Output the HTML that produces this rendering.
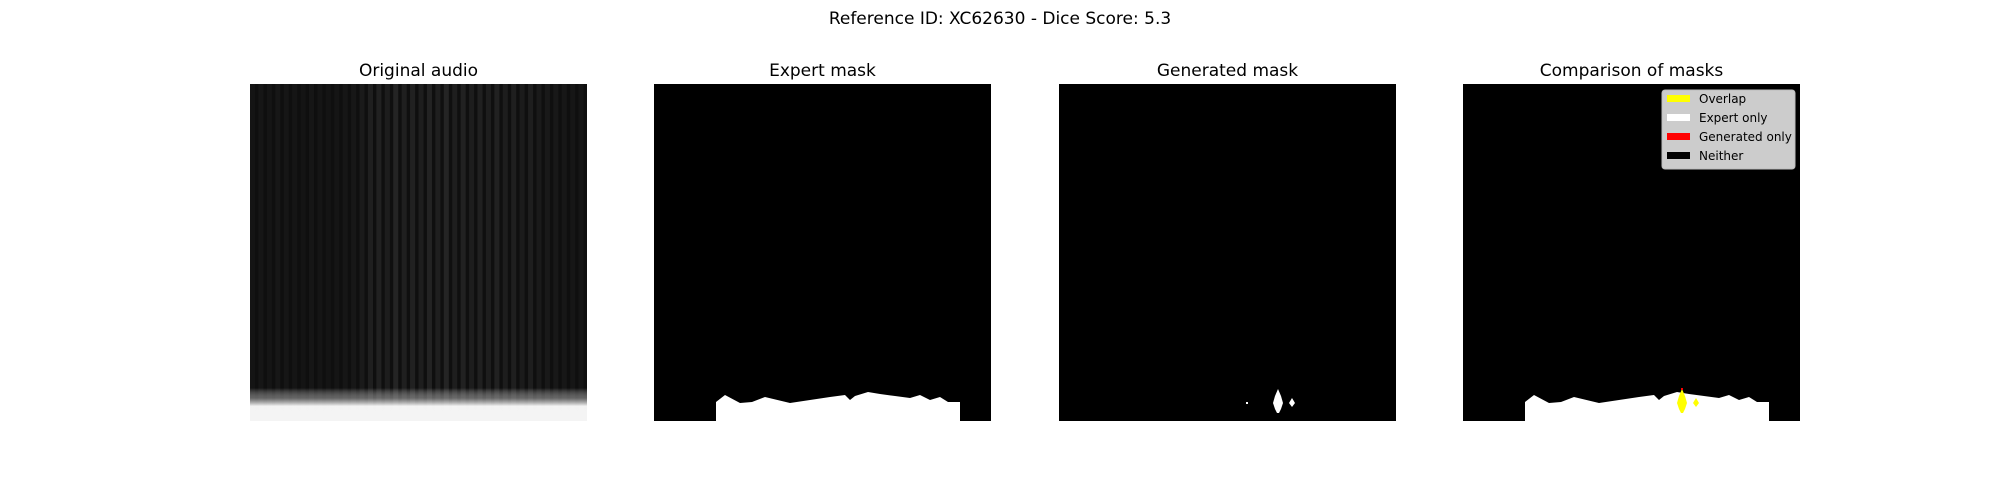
<!DOCTYPE html>
<html><head><meta charset="utf-8"><style>
body{margin:0;background:#fff;}
svg{display:block;font-family:"DejaVu Sans","Liberation Sans",sans-serif;}
</style></head><body>
<svg id="fig" width="2000" height="500" viewBox="0 0 2000 500" xmlns="http://www.w3.org/2000/svg">
<defs>
<linearGradient id="specBand" x1="0" y1="0" x2="0" y2="1">
<stop offset="0" stop-color="#fff" stop-opacity="0"/>
<stop offset="0.3" stop-color="#999" stop-opacity="0.6"/>
<stop offset="0.55" stop-color="#fff" stop-opacity="0.95"/>
<stop offset="1" stop-color="#f4f4f4" stop-opacity="1"/>
</linearGradient>
</defs>
<text x="1000" y="24" text-anchor="middle" font-size="17" fill="#000">Reference ID: XC62630 - Dice Score: 5.3</text>
<g id="panels"></g>
</svg>
<script>
const panelTitles = ["Original audio","Expert mask","Generated mask","Comparison of masks"];
const expertX = [62,71,86,98,111,136,156,176,191,196,201,214,226,241,256,266,276,286,294,306];
const expertY = [318,311,319,318,313,319,316,313,311,316,312,308,310,312,314,311,316,313,318,318];
const genSide = [[230,319],[233,314],[236,319],[233,323]];
const specCols = [0.10,0.12,0.11,0.13,0.12,0.11,0.10,0.12,0.11,0.10,0.11,0.12,0.13,0.16,0.20,0.22,0.18,0.24,0.20,0.22,0.19,0.23,0.20,0.24,0.19,0.22,0.18,0.21,0.19,0.22,0.18,0.20,0.17,0.19,0.16,0.15,0.14,0.13,0.12,0.11];
const legendLabels = ["Overlap","Expert only","Generated only","Neither"];
const legendColors = ["#ffff00","#ffffff","#ff0000","#000000"];

const NS="http://www.w3.org/2000/svg";
const g=document.getElementById('panels');
const left0=250, step=404.3, axTop=84, size=337;
function mk(tag,attrs,parent){const e=document.createElementNS(NS,tag);for(const k in attrs)e.setAttribute(k,attrs[k]);(parent||g).appendChild(e);return e;}
function maskPath(ox){
  let d=`M${ox+expertX[0]},${axTop+size} `;
  for(let i=0;i<expertX.length;i++)d+=`L${ox+expertX[i]},${axTop+expertY[i]} `;
  d+=`L${ox+expertX[expertX.length-1]},${axTop+size} Z`;return d;}
function mainBlob(ox){
  const cx=ox+219,t=axTop;return `M${cx},${t+305} L${cx+3},${t+312} L${cx+5},${t+319} L${cx+3},${t+325} L${cx+1},${t+329} L${cx-1},${t+329} L${cx-3},${t+325} L${cx-5},${t+319} L${cx-3},${t+312} Z`;}
function sideBlob(ox){return 'M'+genSide.map(p=>`${ox+p[0]},${axTop+p[1]}`).join(' L')+' Z';}

panelTitles.forEach((t,i)=>{
  const ox=Math.round(left0+i*step);
  const title=mk('text',{x:ox+size/2,y:76,'text-anchor':'middle','font-size':'17',fill:'#000'});
  title.textContent=t;
  
  
  const bg=mk('rect',{x:ox,y:axTop,width:size,height:size,fill:i===0?'#0f0f0f':'#000'});
  
  
  if(i===0){
    const cw=size/specCols.length;
    specCols.forEach((v,j)=>{
      const c=Math.round(v*255);
      const r=mk('rect',{x:ox+j*cw,y:axTop,width:cw*0.6,height:size,fill:`rgb(${c},${c},${c})`,opacity:0.45});
      
      
    });
    const band=mk('rect',{x:ox,y:axTop+size-33,width:size,height:33,fill:'url(#specBand)'});
    
    
  }
  if(i===1||i===3){
    const p=mk('path',{d:maskPath(ox),fill:'#fff'});
    
    
  }
  if(i===2||i===3){
    const col=i===2?'#fff':'#ffff00';
    const m=mk('path',{d:mainBlob(ox),fill:col});
    
    
    const s=mk('path',{d:sideBlob(ox),fill:col});
    
    
    if(i===2){
      const dot=mk('rect',{x:ox+187,y:axTop+318,width:2,height:2,fill:'#fff'});
      
      
    } else {
      const red=mk('rect',{x:ox+218,y:axTop+304,width:2,height:2,fill:'#f00'});
      
      
    }
  }
  if(i===3){
    const lg=mk('g',{});
    
    
    mk('rect',{x:1662,y:90,width:133,height:79,rx:3,fill:'#cccccc',stroke:'#bbb'},lg);
    legendLabels.forEach((l,k)=>{
      const y=99+k*19;
      const sw=mk('rect',{x:1667,y:y-4,width:23,height:7,fill:legendColors[k]},lg);
      
      
      const tx=mk('text',{x:1699,y:y+4,'font-size':'12',fill:'#000'},lg);
      tx.textContent=l;
      
      
    });
  }
});
</script>
</body></html>
